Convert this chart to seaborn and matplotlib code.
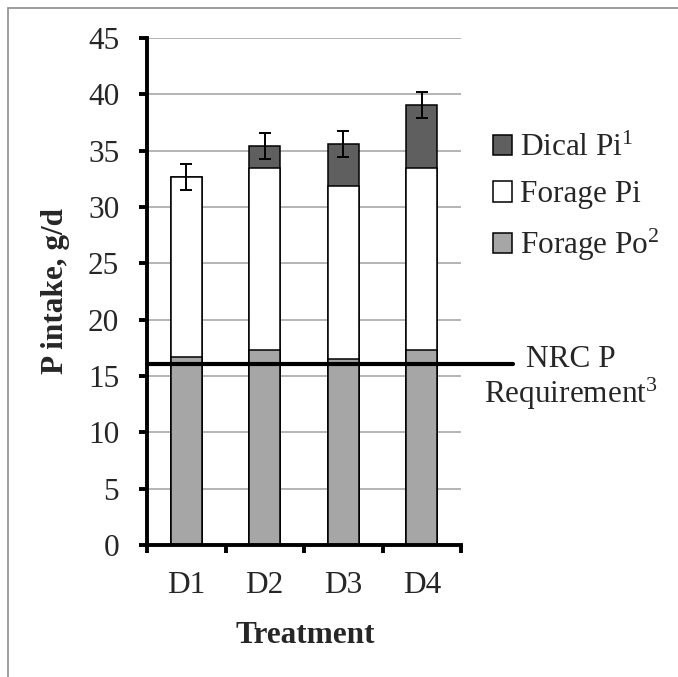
import numpy as np
import pandas as pd
import matplotlib
matplotlib.use("Agg")
import matplotlib.pyplot as plt
from matplotlib.patches import Patch, Rectangle
import seaborn as sns

# ---- data ----
treatments = ["D1", "D2", "D3", "D4"]
forage_po = [16.7, 17.3, 16.5, 17.35]
forage_pi = [16.0, 16.2, 15.35, 16.15]
dical_pi = [0.0, 1.9, 3.75, 5.57]
total_err = [1.15, 1.15, 1.15, 1.15]
nrc_requirement = 16.1
y_ticks = [0, 5, 10, 15, 20, 25, 30, 35, 40, 45]

series_labels = [r"Dical Pi$^{\mathrm{1}}$", "Forage Pi", r"Forage Po$^{\mathrm{2}}$"]
series_colors = ["#5f5f5f", "#ffffff", "#a6a6a6"]

sns.set_style("white")
plt.rcParams["font.family"] = ["Liberation Serif", "DejaVu Serif"]
plt.rcParams["mathtext.fontset"] = "custom"
plt.rcParams["mathtext.rm"] = "Liberation Serif"
plt.rcParams["mathtext.it"] = "Liberation Serif:italic"
plt.rcParams["mathtext.bf"] = "Liberation Serif:bold"
FS = 22.5

df = pd.DataFrame({"Treatment": treatments, "Po": forage_po, "Pi": forage_pi, "Dical": dical_pi})
df["PoPi"] = df["Po"] + df["Pi"]
df["Total"] = df["PoPi"] + df["Dical"]

fig = plt.figure(figsize=(6.78, 6.77), dpi=100)
W, H = 678, 677
ax = fig.add_axes([147 / W, 1 - 545 / H, (461 - 147) / W, (545 - 38) / H])

ax.set_ylim(0, 45)
ax.set_yticks(y_ticks)
ax.yaxis.grid(True, color="#a0a0a0", linewidth=1.1, zorder=0)
ax.set_axisbelow(True)

kw = dict(ax=ax, width=0.4, edgecolor="black", linewidth=1.1, order=treatments)
sns.barplot(data=df, x="Treatment", y="Total", color=series_colors[0], **kw)
sns.barplot(data=df, x="Treatment", y="PoPi", color=series_colors[1], **kw)
sns.barplot(data=df, x="Treatment", y="Po", color=series_colors[2], **kw)
for p in ax.patches:
    p.set_facecolor(p.get_facecolor()[:3] + (1.0,))
ax.set_xlim(-0.5, 3.5)

ax.errorbar(np.arange(len(treatments)), df["Total"], yerr=total_err, fmt="none",
            ecolor="black", elinewidth=1.4, capsize=4, capthick=1.4, zorder=5)

# NRC requirement line extends past the axes
ax.axhline(nrc_requirement, xmin=0, xmax=(513 - 147) / (461 - 147), color="black",
           linewidth=3.0, clip_on=False, zorder=6)
fig.text(571 / W, 1 - 367 / H, "NRC P", ha="center", va="baseline", fontsize=FS)
fig.text(571 / W, 1 - 403 / H, r"Requirement$^{\mathrm{3}}$", ha="center", va="baseline", fontsize=FS)

# spines and ticks
for s in ["top", "right"]:
    ax.spines[s].set_visible(False)
for s in ["left", "bottom"]:
    ax.spines[s].set_linewidth(2.8)
    ax.spines[s].set_color("black")

ax.set_xticks([-0.5, 0.5, 1.5, 2.5, 3.5])
ax.set_xticklabels([])
ax.set_xticks([0, 1, 2, 3], minor=True)
ax.set_xticklabels(treatments, minor=True, fontsize=FS)
ax.tick_params(axis="x", which="major", direction="out", length=6, width=2.8, color="black", bottom=True)
ax.tick_params(axis="x", which="minor", length=0, pad=19)
ax.tick_params(axis="y", direction="out", length=6, width=2.8, color="black", left=True, pad=14,
               labelsize=FS)
ax.set_yticklabels([str(v) for v in y_ticks])

ax.set_xlabel("Treatment", fontsize=FS, fontweight="bold")
ax.set_ylabel("P intake, g/d", fontsize=FS, fontweight="bold")
ax.xaxis.set_label_coords(0.503, -0.15)
ax.yaxis.set_label_coords(-0.245, 0.5)

handles = [Patch(facecolor=c, edgecolor="black", linewidth=1.1) for c in series_colors]
ax.legend(handles, series_labels, loc="upper left", bbox_to_anchor=(493 / W, 1 - 134 / H),
          bbox_transform=fig.transFigure, frameon=False, fontsize=FS, borderpad=0,
          borderaxespad=0, handlelength=0.62, handleheight=0.62, handletextpad=0.25,
          labelspacing=0.55)

# outer frame (partially visible)
fig.add_artist(Rectangle((8 / W, -0.05), 1.2, 1 - 8 / H + 0.05, transform=fig.transFigure,
                         fill=False, edgecolor="#8c8c8c", linewidth=1.2))

fig.savefig("out.png", dpi=100)
